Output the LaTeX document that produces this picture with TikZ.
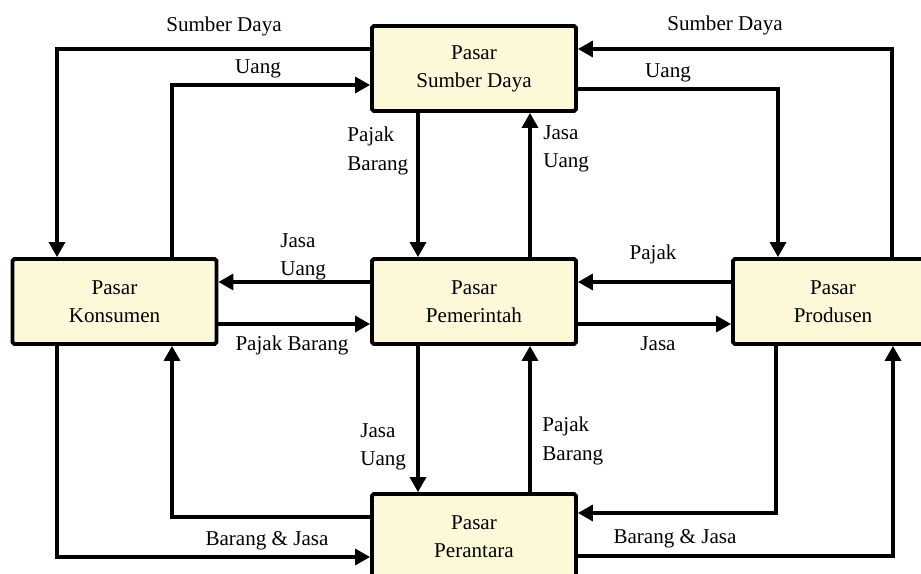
\documentclass[tikz,border=0pt]{standalone}
\usepackage{fontspec}
\setmainfont{Liberation Serif}
\definecolor{mkt_fill}{RGB}{253,249,216}
\usetikzlibrary{arrows.meta}

\begin{document}
\begin{tikzpicture}[x=0.02cm, y=-0.02cm,
            font=\fontsize{12}{16}\selectfont,
            mkt/.style={draw, line width=2.2pt, fill=mkt_fill, rounded corners=1pt,
                        align=center, minimum width=4.08cm, minimum height=1.7cm},
            arr/.style={-{Triangle[length=0.3cm, width=0.32cm]}, line width=1.9pt},
            lbl/.style={inner sep=0pt, align=left}]
            \useasboundingbox (0,0) rectangle (921,574);
            \clip (0,0) rectangle (921,574);
            % markets
            \node[mkt] (sd) at (474,68.5) {Pasar\\Sumber Daya};
            \node[mkt] (kons) at (114.5,301.5) {Pasar\\Konsumen};
            \node[mkt] (pem) at (474,301.5) {Pasar\\Pemerintah};
            \node[mkt, minimum width=4cm] (prod) at (833,301.5) {Pasar\\Produsen};
            \node[mkt] (per) at (474,536.5) {Pasar\\Perantara};
            % bend points
            \coordinate (sdl) at (57,49);
            \coordinate (ual) at (172,85);
            \coordinate (sdr) at (892,49);
            \coordinate (uar) at (778,89);
            \coordinate (bl) at (172,517);
            \coordinate (bjl) at (57,557);
            \coordinate (br) at (776,513);
            \coordinate (bjr) at (893,556);
            \coordinate (va) at (418,0);
            \coordinate (vb) at (530,0);
            \coordinate (ha) at (0,282);
            \coordinate (hb) at (0,324);
            % flows
            \draw[arr] (sd.west |- sdl) -| (kons.north -| sdl);
            \draw[arr] (kons.north -| ual) |- (sd.west |- ual);
            \draw[arr] (prod.north -| sdr) |- (sd.east |- sdr);
            \draw[arr] (sd.east |- uar) -| (prod.north -| uar);
            \draw[arr] (sd.south -| va) -- (pem.north -| va);
            \draw[arr] (pem.north -| vb) -- (sd.south -| vb);
            \draw[arr] (pem.west |- ha) -- (kons.east |- ha);
            \draw[arr] (kons.east |- hb) -- (pem.west |- hb);
            \draw[arr] (prod.west |- ha) -- (pem.east |- ha);
            \draw[arr] (pem.east |- hb) -- (prod.west |- hb);
            \draw[arr] (pem.south -| va) -- (per.north -| va);
            \draw[arr] (per.north -| vb) -- (pem.south -| vb);
            \draw[arr] (per.west |- bl) -| (kons.south -| bl);
            \draw[arr] (kons.south -| bjl) |- (per.west |- bjl);
            \draw[arr] (prod.south -| br) |- (per.east |- br);
            \draw[arr] (per.east |- bjr) -| (prod.south -| bjr);
            % labels
            \node[lbl, anchor=north] (tsdl) at (224,17) {Sumber Daya};
            \node[lbl, anchor=north] (tual) at (258,59) {Uang};
            \node[lbl, anchor=north] (tsdr) at (725,16) {Sumber Daya};
            \node[lbl, anchor=north] (tuar) at (668,63) {Uang};
            \node[lbl, anchor=north west] (tpb1) at (347,127) {Pajak\\Barang};
            \node[lbl, anchor=north west] (tju1) at (543,125) {Jasa\\Uang};
            \node[lbl, anchor=north west] (tju2) at (280,233) {Jasa\\Uang};
            \node[lbl, anchor=north] (tpj) at (653,245) {Pajak};
            \node[lbl, anchor=north] (tpb2) at (292,336) {Pajak Barang};
            \node[lbl, anchor=north] (tjs) at (658,336) {Jasa};
            \node[lbl, anchor=north west] (tju3) at (360,423) {Jasa\\Uang};
            \node[lbl, anchor=north west] (tpb3) at (542,417) {Pajak\\Barang};
            \node[lbl, anchor=north] (tbjl) at (267,531) {Barang \& Jasa};
            \node[lbl, anchor=north] (tbjr) at (675,529) {Barang \& Jasa};
          \end{tikzpicture}
\end{document}
